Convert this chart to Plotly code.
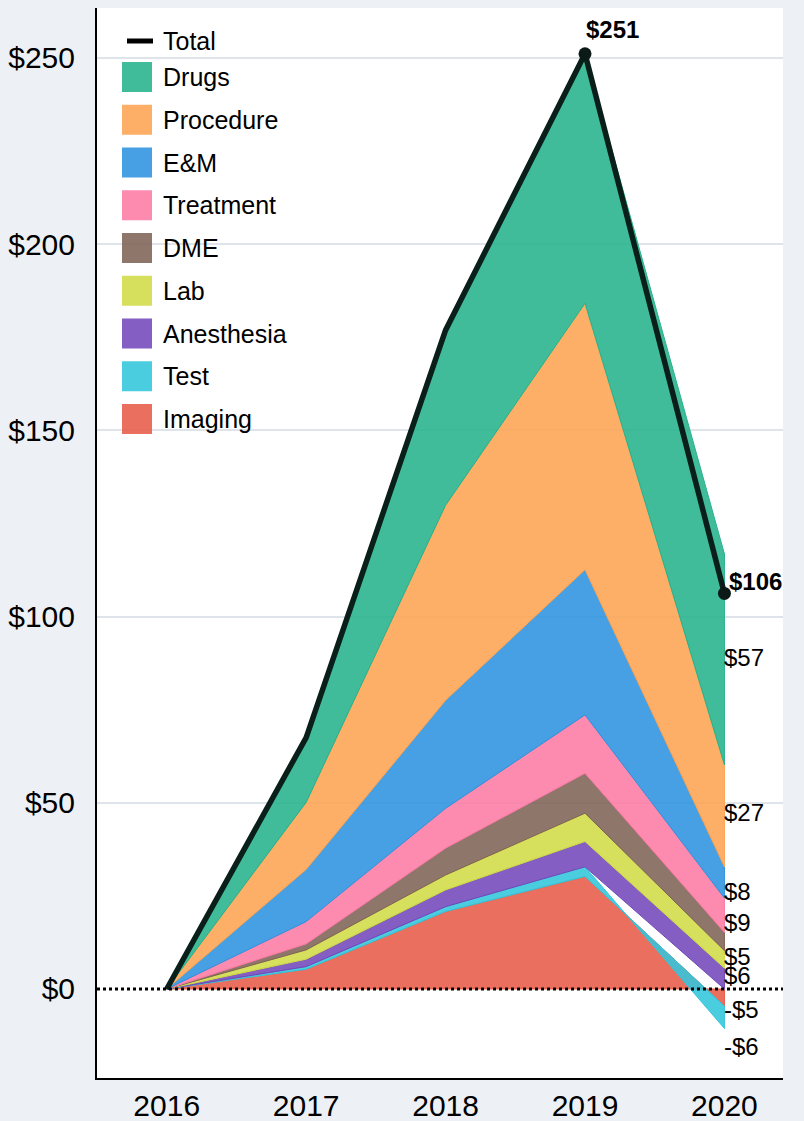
import plotly.graph_objects as go

# ---------------- data ----------------
years = [2016, 2017, 2018, 2019, 2020]

categories = ["Imaging", "Test", "Anesthesia", "Lab", "DME", "Treatment", "E&M", "Procedure", "Drugs"]
imaging    = [0, 5.3, 20.8, 30.2, -4.6]
test       = [0, 0.7, 1.3, 2.6, -6.0]
anesthesia = [0, 2.0, 4.5, 6.8, 5.6]
lab        = [0, 2.5, 4.0, 7.6, 4.7]
dme        = [0, 1.6, 7.2, 10.7, 4.9]
treatment  = [0, 6.0, 10.7, 15.7, 9.2]
em         = [0, 14.0, 29.0, 39.0, 8.4]
procedure  = [0, 18.0, 52.4, 71.5, 27.4]
drugs      = [0, 17.4, 47.0, 67.0, 56.6]

series = [imaging, test, anesthesia, lab, dme, treatment, em, procedure, drugs]
legend_order = ["Drugs", "Procedure", "E&M", "Treatment", "DME", "Lab", "Anesthesia", "Test", "Imaging"]
y_ticks = [0, 50, 100, 150, 200, 250]

# ---------------- styles ----------------
base_colors = {
    "Drugs": (38, 179, 141),
    "Procedure": (253, 164, 82),
    "E&M": (45, 147, 223),
    "Treatment": (253, 123, 165),
    "DME": (128, 99, 86),
    "Lab": (208, 220, 70),
    "Anesthesia": (115, 72, 186),
    "Test": (50, 198, 220),
    "Imaging": (231, 91, 72),
}
ALPHA = 0.88
def fillc(c):
    return "rgba(%d,%d,%d,%.2f)" % (c[0], c[1], c[2], ALPHA)
def linec(c):
    return "rgb(%d,%d,%d)" % c

# label display: which end labels are shown and pixel nudges (style only)
label_shown = {"Drugs": True, "Procedure": True, "E&M": True, "Treatment": True,
               "DME": True, "Lab": False, "Anesthesia": True, "Test": True, "Imaging": True}
label_nudge = {"Drugs": 2, "Procedure": 3, "E&M": -9, "Treatment": -7,
               "DME": -15, "Lab": 0, "Anesthesia": 3, "Test": -29, "Imaging": -12}

FONT = "Arial, Liberation Sans, sans-serif"

fig = go.Figure()

# diverging stack
n = len(years)
pos_cum = [0.0] * n
neg_cum = [0.0] * n
last_bounds = {}
for name, vals in zip(categories, series):
    bases, tops = [], []
    for i, v in enumerate(vals):
        if v >= 0:
            b = pos_cum[i]; t = b + v; pos_cum[i] = t
        else:
            b = neg_cum[i]; t = b + v; neg_cum[i] = t
        bases.append(b); tops.append(t)
    last_bounds[name] = (bases[-1], tops[-1], vals[-1])
    fig.add_trace(go.Scatter(
        x=years + years[::-1],
        y=tops + bases[::-1],
        fill="toself",
        fillcolor=fillc(base_colors[name]),
        line=dict(color=linec(base_colors[name]), width=1),
        mode="lines",
        name=name,
        showlegend=False,
        hoverinfo="skip",
    ))

total = [sum(s[i] for s in series) for i in range(n)]
fig.add_trace(go.Scatter(
    x=years, y=total, mode="lines",
    line=dict(color="#0b1f1a", width=5.5),
    name="Total", showlegend=False, hoverinfo="skip",
))
# end points of the total line
fig.add_trace(go.Scatter(
    x=years[-2:], y=total[-2:], mode="markers",
    marker=dict(color="#0b1a16", size=13, opacity=1, line=dict(width=0)),
    showlegend=False, hoverinfo="skip",
))

# total annotations (last two points)
fig.add_annotation(x=years[3], y=total[3], text="<b>$%d</b>" % round(total[3]),
                   showarrow=False, xanchor="left", yanchor="middle", yshift=24, xshift=-1,
                   font=dict(family=FONT, size=24, color="black"))
fig.add_annotation(x=years[4], y=total[4], text="<b>$%d</b>" % round(total[4]),
                   showarrow=False, xanchor="left", yanchor="middle", yshift=12, xshift=3,
                   font=dict(family=FONT, size=24, color="black"))

# end labels
for name in categories:
    if not label_shown[name]:
        continue
    b, t, v = last_bounds[name]
    txt = ("-$%d" % round(-v)) if v < 0 else ("$%d" % round(v))
    fig.add_annotation(x=years[-1], y=(b + t) / 2, text=txt, showarrow=False,
                       xanchor="left", yanchor="middle", xshift=-2, yshift=label_nudge[name],
                       font=dict(family=FONT, size=24, color="black"))

# zero dotted line
fig.add_shape(type="line", xref="paper", x0=0, x1=1, yref="y", y0=0, y1=0,
              line=dict(color="black", width=3, dash="dot"), layer="above")

# ---------------- manual legend ----------------
L, R, T, B = 97, 783, 8, 1078
W, H = 804, 1121
def px_x(p): return (p - L) / (R - L)
def px_y(p): return 1 - (p - T) / (B - T)

leg_top = 41
leg_step = 42.75
fig.add_shape(type="line", xref="paper", yref="paper",
              x0=px_x(127), x1=px_x(153), y0=px_y(leg_top), y1=px_y(leg_top),
              line=dict(color="black", width=5))
fig.add_annotation(xref="paper", yref="paper", x=px_x(161), y=px_y(leg_top), text="Total",
                   showarrow=False, xanchor="left", yanchor="middle",
                   font=dict(family=FONT, size=25, color="black"))
for k, name in enumerate(legend_order):
    cy = leg_top + 36 + k * leg_step
    fig.add_shape(type="rect", xref="paper", yref="paper",
                  x0=px_x(122), x1=px_x(152), y0=px_y(cy - 15), y1=px_y(cy + 15),
                  fillcolor=fillc(base_colors[name]), line=dict(width=0))
    fig.add_annotation(xref="paper", yref="paper", x=px_x(161), y=px_y(cy), text=name,
                       showarrow=False, xanchor="left", yanchor="middle",
                       font=dict(family=FONT, size=25, color="black"))

fig.update_layout(
    width=W, height=H,
    margin=dict(l=L, r=W - R, t=T, b=H - B, autoexpand=False),
    paper_bgcolor="#edf1f5",
    plot_bgcolor="white",
    showlegend=False,
    font=dict(family=FONT, color="black"),
)
fig.update_xaxes(
    range=[2015.5, 2020.42], tickvals=years, ticktext=[str(y) for y in years],
    showgrid=False, zeroline=False, showline=True, linecolor="black", linewidth=2,
    tickfont=dict(family=FONT, size=30, color="black"), ticks="", ticklabelstandoff=0,
    automargin=False,
)
fig.update_yaxes(
    range=[-23.9, 263.4], tickvals=y_ticks, ticktext=["$%d" % v for v in y_ticks],
    showgrid=True, gridcolor="#dfe3ea", gridwidth=2,
    zeroline=True, zerolinecolor="rgba(0,0,0,0)",
    showline=True, linecolor="black", linewidth=2,
    tickfont=dict(family=FONT, size=30, color="black"), ticks="", ticklabelstandoff=14,
    automargin=False,
)

fig.write_html("out.html", config={"displayModeBar": False},
               post_script="document.body.style.margin='0px';document.body.style.background='#edf1f5';")
